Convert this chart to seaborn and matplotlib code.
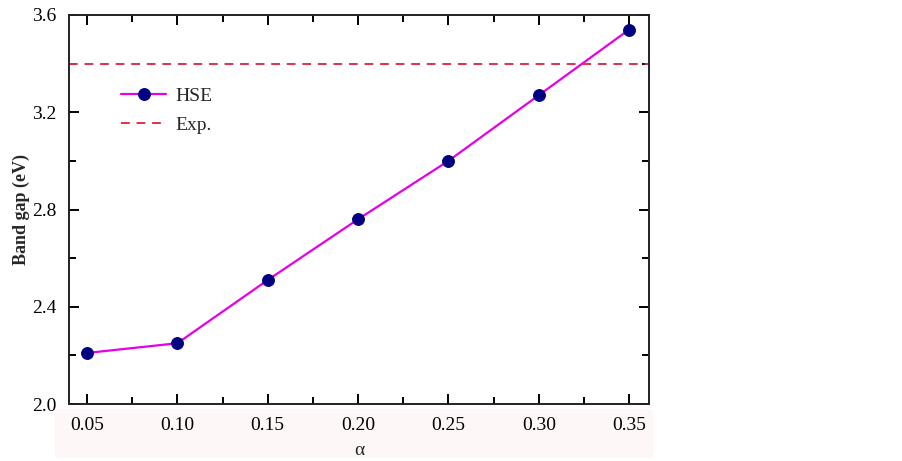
import numpy as np
import pandas as pd
import matplotlib
matplotlib.use('Agg')
import matplotlib.pyplot as plt
import seaborn as sns
from matplotlib.patches import Rectangle
from matplotlib.ticker import MultipleLocator

alpha = [0.05, 0.10, 0.15, 0.20, 0.25, 0.30, 0.35]
band_gap = [2.21, 2.25, 2.51, 2.76, 3.00, 3.27, 3.54]
exp_gap = 3.40

df = pd.DataFrame({'alpha': alpha, 'gap': band_gap})

sns.set_style('ticks')
plt.rcParams['font.family'] = ['Liberation Serif', 'DejaVu Serif']

fig = plt.figure(figsize=(9.03, 4.61), dpi=100)
# light band behind the x tick labels
fig.patches.append(Rectangle((0.061, 0.006), 0.662, 0.106, transform=fig.transFigure,
                             facecolor='#fdf7f7', edgecolor='none', zorder=-5))
ax = fig.add_axes([0.0764, 0.1236, 0.6423, 0.8439])
ax.patch.set_alpha(0)

sns.lineplot(data=df, x='alpha', y='gap', ax=ax, color='#e600e6', linewidth=1.6,
             marker='o', markersize=8.5, markerfacecolor='#000080',
             markeredgecolor='#000080', label='HSE')
ax.axhline(exp_gap, color='#e0304a', linestyle=(0, (4.5, 3.5)), linewidth=1.4, label='Exp.')

ax.set_xlim(0.040, 0.361)
ax.set_ylim(2.0, 3.6)
ax.xaxis.set_major_locator(MultipleLocator(0.05))
ax.xaxis.set_minor_locator(MultipleLocator(0.025))
ax.yaxis.set_major_locator(MultipleLocator(0.4))
ax.yaxis.set_minor_locator(MultipleLocator(0.2))
ax.set_xticks(alpha)
ax.set_xticklabels([f'{a:.2f}' for a in alpha])
ax.set_yticks([2.0, 2.4, 2.8, 3.2, 3.6])
ax.set_yticklabels(['2.0', '2.4', '2.8', '3.2', '3.6'])

ax.tick_params(which='both', direction='in', top=True, right=True, width=1.4,
               labelsize=14, colors='black')
ax.tick_params(which='major', length=7, pad=9)
ax.tick_params(which='minor', length=5)
for s in ax.spines.values():
    s.set_linewidth(1.4)
    s.set_color('#222222')

ax.set_xlabel('α', fontsize=14, labelpad=6)
ax.set_ylabel('Band gap (eV)', fontsize=13, fontweight='bold')
ax.yaxis.set_label_coords(-0.068, 0.5)

ax.legend(loc='upper left', bbox_to_anchor=(0.06, 0.86), frameon=False, fontsize=14,
          handlelength=2.3, labelspacing=0.6, handletextpad=0.5)

fig.savefig('out.png', dpi=100)
